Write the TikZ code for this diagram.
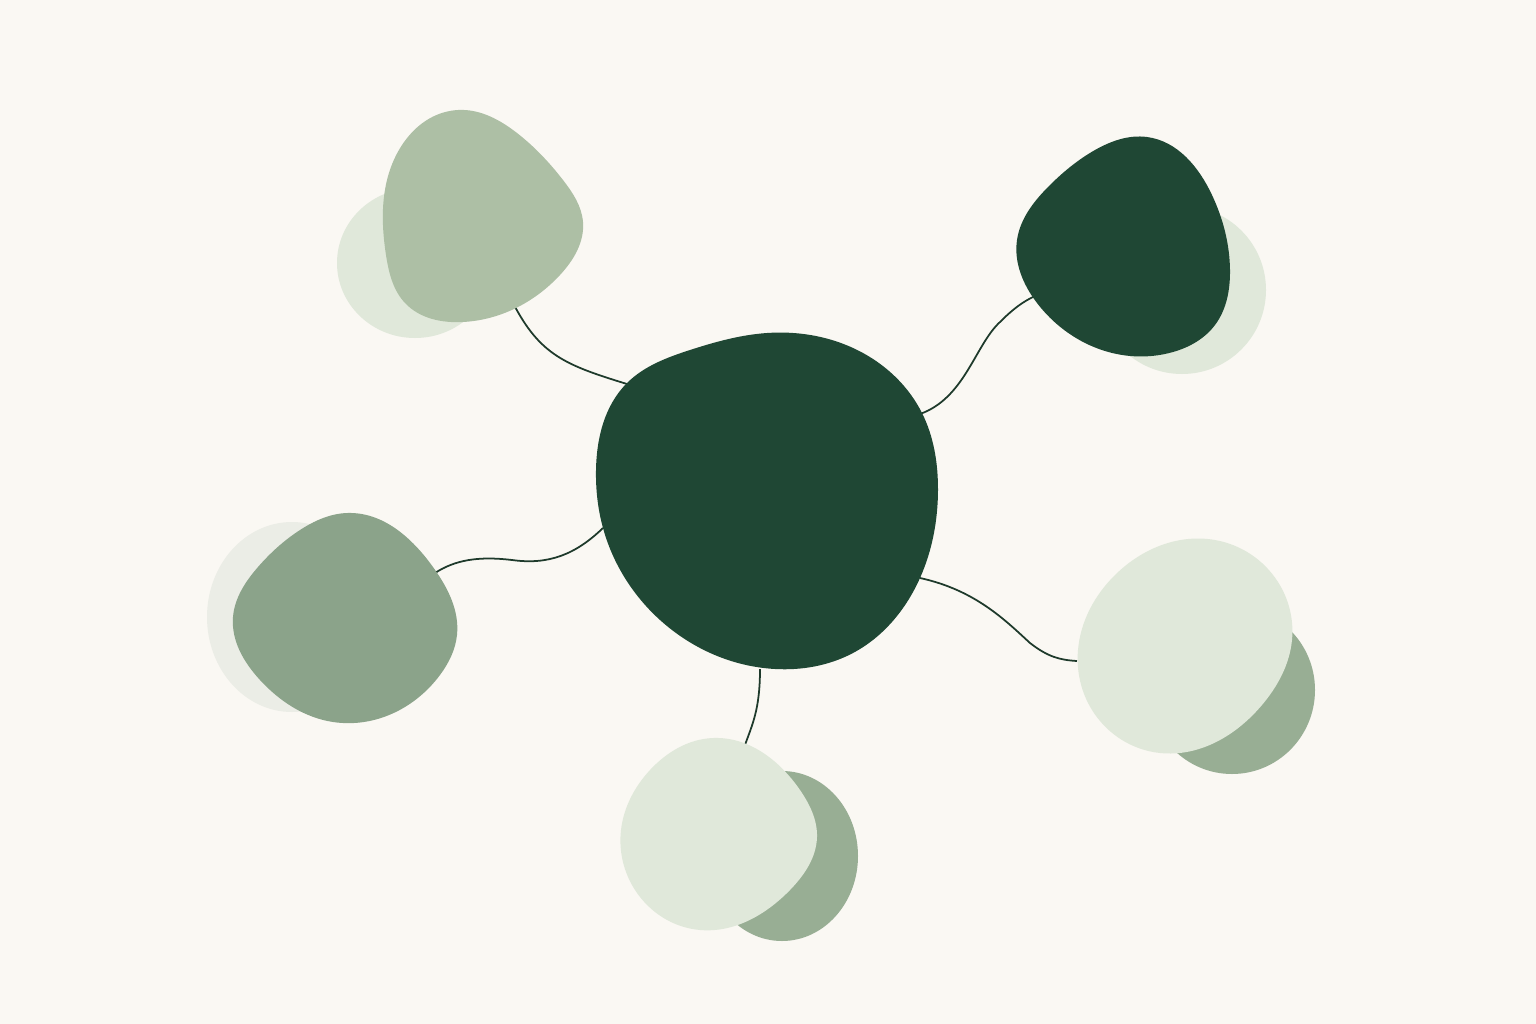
\documentclass[tikz,border=0pt]{standalone}
\usepackage{tikz}
\usetikzlibrary{hobby}
\definecolor{paper}{HTML}{FAF8F3}
\definecolor{forest}{HTML}{1F4734}
\definecolor{sage}{HTML}{ADBFA5}
\definecolor{mist}{HTML}{E0E8DA}
\definecolor{fern}{HTML}{8BA38A}
\definecolor{fernback}{HTML}{98AE94}
\definecolor{ash}{HTML}{EBEDE6}
\definecolor{wire}{HTML}{1E3A2B}
\tikzset{blob/.style={use Hobby shortcut,closed=true}}
\begin{document}
\begin{tikzpicture}[x=0.01cm,y=-0.01cm]
        \useasboundingbox (0,0) rectangle (1536,1024);
        \fill[paper] (0,0) rectangle (1536,1024);
        \fill[mist] (415,263) ellipse [x radius=78,y radius=75];
        \fill[mist] (1182,290) ellipse [x radius=84,y radius=84];
        \fill[ash] (292,617) ellipse [x radius=85,y radius=95];
        \fill[fernback] (782,856) ellipse [x radius=76,y radius=85];
        \fill[fernback] (1232,690) ellipse [x radius=83,y radius=84];
        \coordinate (tl) at (513,303);
        \coordinate (ctl) at (627,384);
        \coordinate (ctr) at (920,414);
        \coordinate (tr) at (1035,296);
        \coordinate (cl) at (603,528);
        \coordinate (ml) at (435,573);
        \coordinate (cb) at (760,669);
        \coordinate (bm) at (745,745);
        \coordinate (cr) at (920,578);
        \coordinate (mr) at (1077,661);
        \draw[wire,line width=0.5pt] (tl) .. controls (540,355) and (565,365) .. (ctl);
        \draw[wire,line width=0.5pt] (ctr) .. controls (965,398) and (975,345) .. (1000,322) .. controls (1012,310) and (1022,302) .. (tr);
        \draw[wire,line width=0.5pt] (cl) .. controls (575,555) and (548,565) .. (512,560) .. controls (478,556) and (455,560) .. (ml);
        \draw[wire,line width=0.5pt] (cb) .. controls (760,710) and (752,725) .. (bm);
        \draw[wire,line width=0.5pt] (cr) .. controls (975,590) and (1005,620) .. (1030,643) .. controls (1048,657) and (1060,660) .. (mr);
        \fill[forest,blob] (767,333) .. (863,353) .. (922,413) .. (938,490) .. (920,578) .. (853,653) .. (775,669) .. (660,620) .. (603,528) .. (596,470) .. (627,383) .. (690,350);
        \fill[sage,blob] (458,110) .. (517,133) .. (563,180) .. (583,222) .. (560,275) .. (463,322) .. (405,303) .. (386,255) .. (387,180);
        \fill[forest,blob] (1147,137) .. (1212,195) .. (1230,270) .. (1215,325) .. (1173,352) .. (1037,303) .. (1017,240) .. (1050,185) .. (1095,150);
        \fill[fern,blob] (347,513) .. (433,567) .. (457,635) .. (440,675) .. (333,722) .. (260,680) .. (233,617) .. (258,567) .. (300,530);
        \fill[mist,blob] (713,738) .. (800,790) .. (817,837) .. (790,890) .. (700,930) .. (635,890) .. (621,830) .. (650,770);
        \fill[mist,blob] (1215,540) .. (1278,582) .. (1292,640) .. (1262,705) .. (1160,753) .. (1092,710) .. (1078,650) .. (1115,575);
    \end{tikzpicture}
\end{document}
